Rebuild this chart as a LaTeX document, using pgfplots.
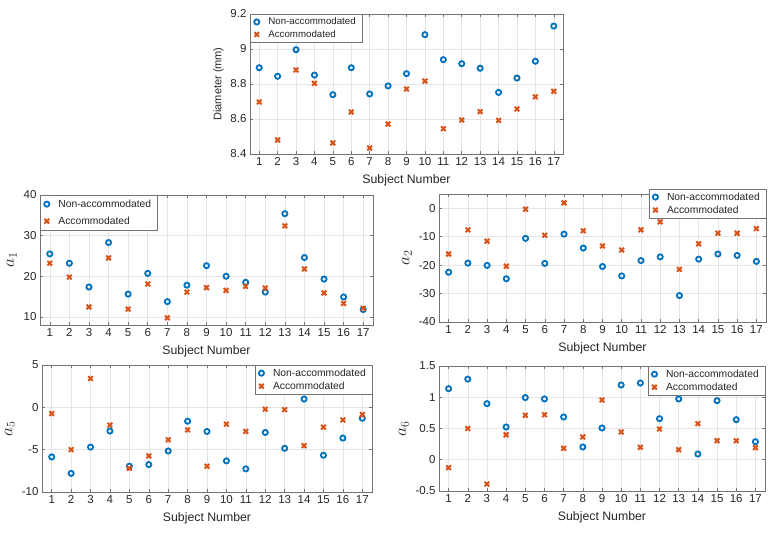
\documentclass[border=0pt]{standalone}
\usepackage{fontspec}
\setmainfont{Liberation Sans}
\usepackage{pgfplots}
\pgfplotsset{compat=1.18}
\definecolor{mblue}{RGB}{0,114,189}
\definecolor{morange}{RGB}{217,83,25}
\definecolor{mtext}{RGB}{38,38,38}
\pgfplotsset{
  mystyle/.style={
    scale only axis, xmin=0.5, xmax=17.5, xtick={1,...,17},
    grid=major, major grid style={draw=black!10, line width=0.5pt},
    axis line style={draw=black!55, line width=0.5pt},
    tick style={draw=black!55, line width=0.5pt}, major tick length=3pt,
    tick label style={font=\fontsize{11.5}{13}\selectfont, text=mtext},
    xlabel style={font=\fontsize{12.3}{14}\selectfont, text=mtext, yshift=-2pt},
    xlabel={Subject Number},
    legend cell align=left,
    legend style={draw=black!55, fill=white, font=\fontsize{10.3}{12}\selectfont, text=mtext,
      inner xsep=4pt, inner ysep=1.5pt, row sep=0pt,
      /tikz/every odd column/.append style={column sep=7pt}},
    /pgf/number format/assume math mode=true,
    clip=false,
  },
  alabel/.style={ylabel style={font=\fontsize{17}{19}\selectfont, text=mtext}},
  nonacc/.style={only marks, mark=o, mark size=2.6pt, line width=1.8pt, color=mblue},
  acc/.style={only marks, mark=x, mark size=3.3pt, line width=2pt, color=morange},
}
\begin{document}
\begin{tikzpicture}
\useasboundingbox (0,0) rectangle (780pt,534pt);
% Top: Diameter
\begin{axis}[mystyle, at={(250pt,380pt)}, anchor=south west, width=313pt, height=140pt,
  ymin=8.4, ymax=9.2, ytick={8.4,8.6,8.8,9,9.2},
  ylabel={Diameter (mm)}, ylabel style={font=\fontsize{11}{13}\selectfont, text=mtext},
  legend style={at={(0,1)}, anchor=north west, font=\fontsize{9.7}{11}\selectfont}]
\addplot[nonacc] coordinates {(1,8.893)(2,8.844)(3,8.996)(4,8.851)(5,8.739)(6,8.893)(7,8.743)(8,8.789)(9,8.859)(10,9.082)(11,8.939)(12,8.916)(13,8.890)(14,8.752)(15,8.834)(16,8.930)(17,9.131)};
\addlegendentry{Non-accommodated}
\addplot[acc] coordinates {(1,8.697)(2,8.480)(3,8.880)(4,8.804)(5,8.463)(6,8.640)(7,8.434)(8,8.571)(9,8.771)(10,8.817)(11,8.545)(12,8.594)(13,8.642)(14,8.592)(15,8.657)(16,8.726)(17,8.758)};
\addlegendentry{Accommodated}
\end{axis}
% Middle left: a1
\begin{axis}[mystyle, alabel, at={(40pt,209pt)}, anchor=south west, width=333pt, height=130pt,
  ymin=8, ymax=40, ytick={10,20,30,40}, ylabel={$a_1$},
  legend style={at={(0,1)}, anchor=north west, row sep=4pt, inner ysep=2.5pt}]
\addplot[nonacc] coordinates {(1,25.5)(2,23.2)(3,17.35)(4,28.3)(5,15.6)(6,20.7)(7,13.75)(8,17.8)(9,22.6)(10,20.0)(11,18.5)(12,16.1)(13,35.4)(14,24.6)(15,19.3)(16,14.9)(17,11.8)};
\addlegendentry{Non-accommodated}
\addplot[acc] coordinates {(1,23.2)(2,19.8)(3,12.45)(4,24.5)(5,11.9)(6,18.1)(7,9.75)(8,16.1)(9,17.2)(10,16.5)(11,17.5)(12,17.1)(13,32.4)(14,21.8)(15,15.9)(16,13.3)(17,12.1)};
\addlegendentry{Accommodated}
\end{axis}
% Middle right: a2
\begin{axis}[mystyle, alabel, at={(439pt,212pt)}, anchor=south west, width=327pt, height=128pt,
  ymin=-40, ymax=5, ytick={-40,-30,-20,-10,0}, ylabel={$a_2$},
  legend style={at={(1,1.04)}, anchor=north east}]
\addplot[nonacc] coordinates {(1,-22.5)(2,-19.3)(3,-20.1)(4,-24.8)(5,-10.6)(6,-19.4)(7,-9.1)(8,-14.0)(9,-20.5)(10,-23.8)(11,-18.4)(12,-17.1)(13,-30.7)(14,-17.9)(15,-16.1)(16,-16.6)(17,-18.7)};
\addlegendentry{Non-accommodated}
\addplot[acc] coordinates {(1,-16.1)(2,-7.6)(3,-11.6)(4,-20.4)(5,-0.35)(6,-9.5)(7,1.9)(8,-7.9)(9,-13.3)(10,-14.7)(11,-7.6)(12,-4.8)(13,-21.5)(14,-12.5)(15,-8.8)(16,-8.8)(17,-7.2)};
\addlegendentry{Accommodated}
\end{axis}
% Bottom left: a5
\begin{axis}[mystyle, alabel, at={(42pt,42pt)}, anchor=south west, width=330pt, height=127pt,
  ymin=-10, ymax=5, ytick={-10,-5,0,5}, ylabel={$a_5$},
  legend style={at={(1,1)}, anchor=north east}]
\addplot[nonacc] coordinates {(1,-5.86)(2,-7.8)(3,-4.7)(4,-2.8)(5,-6.95)(6,-6.76)(7,-5.16)(8,-1.64)(9,-2.85)(10,-6.33)(11,-7.27)(12,-2.97)(13,-4.84)(14,0.98)(15,-5.66)(16,-3.63)(17,-1.29)};
\addlegendentry{Non-accommodated}
\addplot[acc] coordinates {(1,-0.74)(2,-5.0)(3,3.4)(4,-2.1)(5,-7.2)(6,-5.74)(7,-3.83)(8,-2.66)(9,-6.95)(10,-1.99)(11,-2.85)(12,-0.23)(13,-0.27)(14,-4.53)(15,-2.34)(16,-1.48)(17,-0.86)};
\addlegendentry{Accommodated}
\end{axis}
% Bottom right: a6
\begin{axis}[mystyle, alabel, at={(439pt,43pt)}, anchor=south west, width=326pt, height=125pt,
  ymin=-0.5, ymax=1.5, ytick={-0.5,0,0.5,1,1.5}, ylabel={$a_6$},
  legend style={at={(1,1)}, anchor=north east}]
\addplot[nonacc] coordinates {(1,1.137)(2,1.29)(3,0.897)(4,0.524)(5,0.995)(6,0.973)(7,0.684)(8,0.204)(9,0.508)(10,1.196)(11,1.228)(12,0.657)(13,0.972)(14,0.092)(15,0.945)(16,0.641)(17,0.289)};
\addlegendentry{Non-accommodated}
\addplot[acc] coordinates {(1,-0.127)(2,0.50)(3,-0.39)(4,0.40)(5,0.71)(6,0.72)(7,0.183)(8,0.364)(9,0.957)(10,0.444)(11,0.199)(12,0.492)(13,0.161)(14,0.577)(15,0.305)(16,0.305)(17,0.193)};
\addlegendentry{Accommodated}
\end{axis}
\end{tikzpicture}
\end{document}
